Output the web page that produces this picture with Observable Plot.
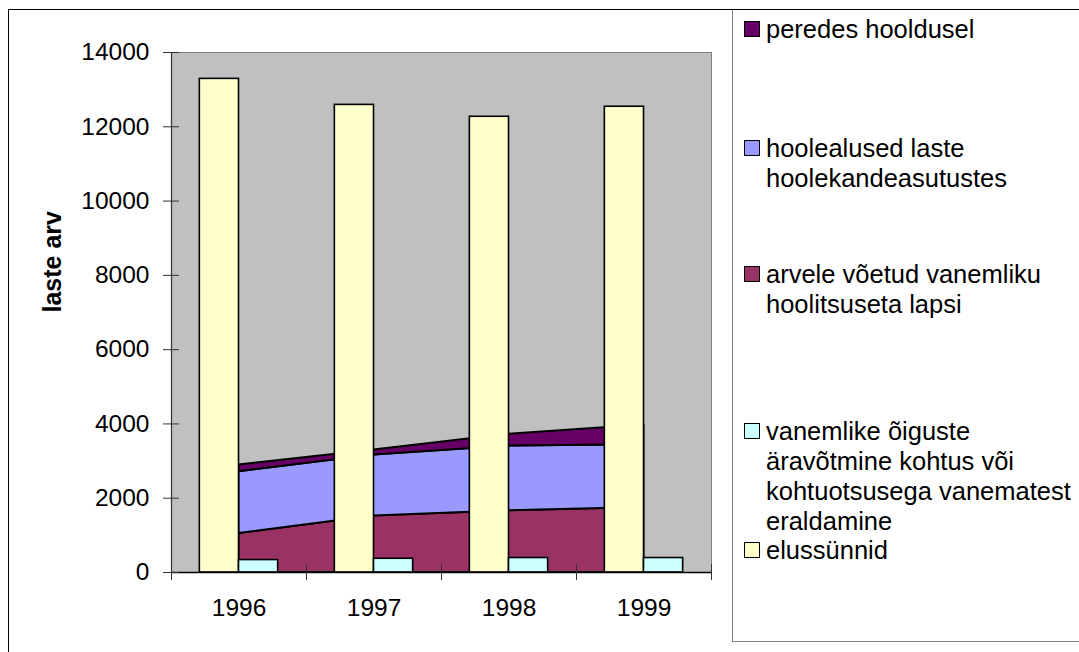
<!DOCTYPE html>
<html>
<head>
<meta charset="utf-8">
<script src="https://cdn.jsdelivr.net/npm/d3@7"></script>
<script src="https://cdn.jsdelivr.net/npm/@observablehq/plot@0.6"></script>
<style>
  html, body { margin: 0; padding: 0; background: #fff; }
  #wrap { position: relative; width: 1079px; height: 652px; overflow: hidden; background: #fff;
          font-family: "Liberation Sans", Arial, sans-serif; color: #000; }
  #chart { position: absolute; left: 0; top: 0; }
  #outer { position: absolute; left: 8px; top: 9px; width: 1200px; height: 800px;
           border: 1px solid #000; box-sizing: border-box; pointer-events: none; z-index: 3; }
  #legend { position: absolute; left: 732px; top: 9px; width: 400px; height: 633px;
            border: 1px solid #808080; box-sizing: border-box; background: #fff; z-index: 2; }
  .item { position: absolute; left: 0; }
  .sw { position: absolute; left: 11px; width: 16px; height: 16px; border: 1px solid #000; box-sizing: border-box; }
  .lbl { position: absolute; left: 33px; width: 320px; font-size: 25.5px; line-height: 30px; white-space: pre-line; }
</style>
</head>
<body>
<div id="wrap">
  <div id="chart"></div>
  <div id="legend"></div>
  <div id="outer"></div>
</div>
<script>
// ---- data ----
const years = [1996, 1997, 1998, 1999];
const elussunnid = [13290, 12590, 12270, 12540];
const vanemlikeOiguste = [335, 370, 390, 390];
const arveleVoetud = [1050, 1520, 1660, 1750];
const hoolealused = [1665, 1645, 1745, 1690];
const peredesHooldusel = [180, 135, 315, 530];
const yTicks = [0, 2000, 4000, 6000, 8000, 10000, 12000, 14000];
const yLabel = "laste arv";

const nameArvele = "arvele võetud vanemliku\nhoolitsuseta lapsi";
const nameHoole = "hoolealused laste\nhoolekandeasutustes";
const namePeredes = "peredes hooldusel";
const nameVanemlike = "vanemlike õiguste\näravõtmine kohtus või\nkohtuotsusega vanematest\neraldamine";
const nameElus = "elussünnid";

// legend order (top to bottom) as in the reference
const legendNames = [namePeredes, nameHoole, nameArvele, nameVanemlike, nameElus];

// ---- styles ----
const colors = {
  [namePeredes]: "#660066",
  [nameHoole]: "#9999ff",
  [nameArvele]: "#993366",
  [nameVanemlike]: "#ccffff",
  [nameElus]: "#ffffcc"
};
const legendTops = [4, 123, 249, 406, 525];
const barW = 0.29;

// ---- tables ----
const areaSeries = [[nameArvele, arveleVoetud], [nameHoole, hoolealused], [namePeredes, peredesHooldusel]];
const areaRows = areaSeries.flatMap(([s, vals]) => years.map((year, i) => ({year, series: s, value: vals[i]})));
const birthRows = years.map((year, i) => ({year, value: elussunnid[i]}));
const courtRows = years.map((year, i) => ({year, value: vanemlikeOiguste[i]}));
const bounds = years.map(y => y - 0.5).concat([years[years.length - 1] + 0.5]);

const chart = Plot.plot({
  width: 733,
  height: 652,
  marginLeft: 171,
  marginRight: 22,
  marginTop: 52,
  marginBottom: 80,
  style: {fontFamily: "'Liberation Sans', Arial, sans-serif", fontSize: "24.5px", color: "#000", background: "transparent", overflow: "visible"},
  x: {domain: [bounds[0], bounds[bounds.length - 1]], axis: null},
  y: {domain: [0, 14000], axis: null},
  color: {domain: areaSeries.map(d => d[0]), range: areaSeries.map(d => colors[d[0]])},
  marks: [
    Plot.frame({fill: "#c0c0c0", stroke: "#808080"}),
    Plot.areaY(areaRows, {x: "year", y: "value", z: "series", fill: "series", stroke: "#000", strokeWidth: 2, strokeLinejoin: "miter"}),
    Plot.rect(birthRows, {x1: d => d.year - barW, x2: "year", y1: 0, y2: "value", fill: colors[nameElus], stroke: "#000", strokeWidth: 1.6}),
    Plot.rect(courtRows, {x1: "year", x2: d => d.year + barW, y1: 0, y2: "value", fill: colors[nameVanemlike], stroke: "#000", strokeWidth: 1.6}),
    Plot.ruleX([bounds[0]], {stroke: "#333", strokeWidth: 1.2}),
    Plot.ruleY([0], {stroke: "#000", strokeWidth: 1.5}),
    Plot.axisY(yTicks, {tickSize: 16, dx: 8, fill: "none", stroke: "#333", label: null}),
    Plot.axisY(yTicks, {tickSize: 0, tickPadding: 22, tickFormat: d => String(d), stroke: "none", label: null}),
    Plot.axisX(bounds, {tickSize: 16, dy: -8, fill: "none", stroke: "#333", label: null}),
    Plot.axisX(years, {tickSize: 0, tickPadding: 26, tickFormat: d => String(d), stroke: "none", label: null}),
    Plot.text([yLabel], {frameAnchor: "left", text: d => d, rotate: -90, dx: -119, fontWeight: "bold", fontSize: 25})
  ]
});
document.getElementById("chart").appendChild(chart);

// ---- legend ----
const legend = document.getElementById("legend");
legendNames.forEach((name, i) => {
  const item = document.createElement("div");
  item.className = "item";
  item.style.top = legendTops[i] + "px";
  const sw = document.createElement("div");
  sw.className = "sw";
  sw.style.top = "7px";
  sw.style.background = colors[name];
  const lbl = document.createElement("div");
  lbl.className = "lbl";
  lbl.style.top = "0px";
  lbl.textContent = name;
  item.appendChild(sw);
  item.appendChild(lbl);
  legend.appendChild(item);
});
</script>
</body>
</html>
